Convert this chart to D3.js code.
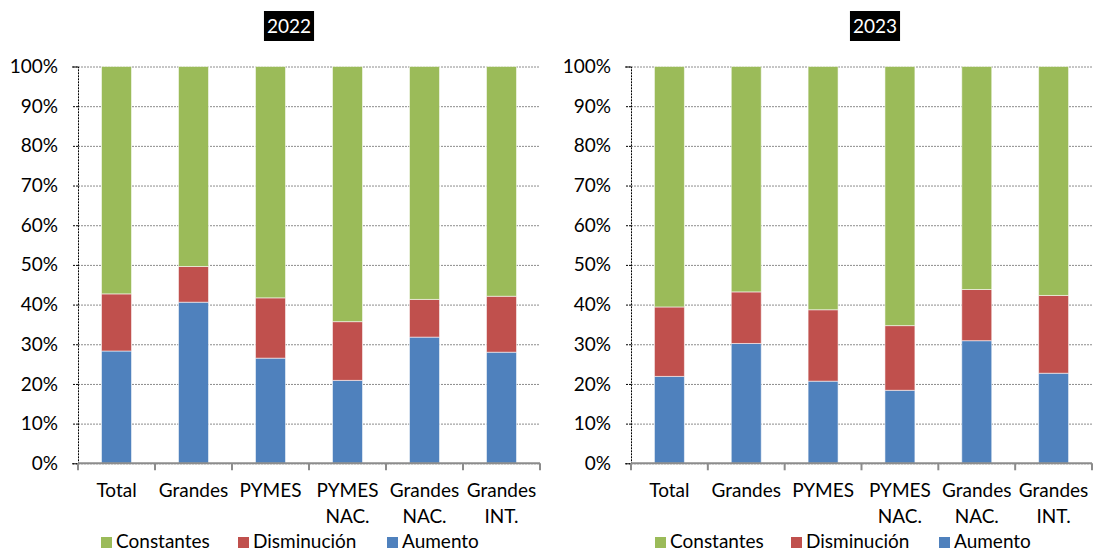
<!DOCTYPE html>
<html>
<head>
<meta charset="utf-8">
<script src="https://cdn.jsdelivr.net/npm/d3@7"></script>
<style>
  body { margin: 0; background: #fff; }
  text { font-family: Lato, "Open Sans", sans-serif; fill: #000; }
</style>
</head>
<body>
<div id="chart"></div>
<script>
var categories = ["Total", "Grandes", "PYMES", "PYMES NAC.", "Grandes NAC.", "Grandes INT."];
var seriesNames = ["Aumento", "Disminución", "Constantes"];
var seriesColors = {"Aumento": "#4f81bd", "Disminución": "#c0504d", "Constantes": "#9bbb59"};
var legendOrder = ["Constantes", "Disminución", "Aumento"];
var yTicks = [0, 10, 20, 30, 40, 50, 60, 70, 80, 90, 100];

var years = ["2022", "2023"];
var aumento2022     = [28.3, 40.6, 26.5, 20.9, 31.8, 28.0];
var disminucion2022 = [14.4,  9.0, 15.2, 14.8,  9.5, 14.1];
var constantes2022  = [57.3, 50.4, 58.3, 64.3, 58.7, 57.9];
var aumento2023     = [21.9, 30.2, 20.7, 18.4, 30.9, 22.7];
var disminucion2023 = [17.5, 13.0, 18.0, 16.3, 12.9, 19.6];
var constantes2023  = [60.6, 56.8, 61.3, 65.3, 56.2, 57.7];

var width = 1093, height = 552;
var fontSize = "19px";

var svg = d3.select("#chart").append("svg")
    .attr("width", width)
    .attr("height", height);

var panels = [
  {year: years[0], left: 78, right: 540, titleX: 289, legendX: [101, 238, 387],
   aum: aumento2022, dis: disminucion2022, con: constantes2022},
  {year: years[1], left: 631, right: 1092, titleX: 875, legendX: [655, 791, 939],
   aum: aumento2023, dis: disminucion2023, con: constantes2023}
];

var plotTop = 66.5, plotBottom = 463.3;

panels.forEach(function(p) { drawPanel(p); });

function drawPanel(p) {
  var rows = categories.map(function(c, i) {
    return {cat: c, "Aumento": p.aum[i], "Disminución": p.dis[i], "Constantes": p.con[i]};
  });

  var x = d3.scaleBand()
      .domain(categories)
      .range([p.left, p.right])
      .paddingInner(0.61)
      .paddingOuter(0.305);

  var y = d3.scaleLinear()
      .domain([0, 100])
      .range([plotBottom, plotTop]);

  var g = svg.append("g");

  // gridlines
  g.append("g")
    .attr("transform", "translate(" + p.left + ",0)")
    .call(d3.axisLeft(y).tickValues(yTicks).tickSize(-(p.right - p.left)).tickFormat(""))
    .call(function(a) {
      a.select(".domain").remove();
      a.selectAll("line")
        .attr("stroke", "#8c8c8c")
        .attr("stroke-dasharray", "2,1")
        .attr("stroke-width", 1);
    });

  // stacked bars
  var stacked = d3.stack().keys(seriesNames)(rows);
  g.selectAll(".series")
    .data(stacked)
    .enter().append("g")
    .attr("fill", function(d) { return seriesColors[d.key]; })
    .selectAll("rect")
    .data(function(d) { return d; })
    .enter().append("rect")
    .attr("x", function(d) { return x(d.data.cat); })
    .attr("width", x.bandwidth())
    .attr("y", function(d) { return y(d[1]); })
    .attr("height", function(d) { return y(d[0]) - y(d[1]); })
    .attr("stroke", "rgba(255,255,255,0.55)")
    .attr("stroke-width", 1);

  // y axis
  g.append("g")
    .attr("transform", "translate(" + p.left + ",0)")
    .call(d3.axisLeft(y).tickValues(yTicks).tickSize(6).tickPadding(14)
      .tickFormat(function(d) { return d + "%"; }))
    .call(function(a) {
      a.select(".domain")
        .attr("stroke", "#000")
        .attr("stroke-dasharray", "2,1");
      a.selectAll("line")
        .attr("stroke", "#000")
        .attr("stroke-dasharray", "2,1");
      a.selectAll("text")
        .style("font-size", fontSize)
        .style("font-family", "Lato, sans-serif")
        .attr("fill", "#000");
    });

  // x axis
  g.append("line")
    .attr("x1", p.left).attr("x2", p.right)
    .attr("y1", plotBottom).attr("y2", plotBottom)
    .attr("stroke", "#8c8c8c")
    .attr("stroke-width", 2);

  var bounds = d3.range(categories.length + 1).map(function(i) { return p.left + i * x.step(); });
  g.selectAll(".xtick")
    .data(bounds)
    .enter().append("line")
    .attr("x1", function(d) { return d; }).attr("x2", function(d) { return d; })
    .attr("y1", plotBottom).attr("y2", plotBottom + 7)
    .attr("stroke", "#8c8c8c")
    .attr("stroke-width", 2);

  var labels = g.selectAll(".xlabel")
    .data(categories)
    .enter().append("text")
    .attr("text-anchor", "middle")
    .style("font-size", fontSize)
    .attr("x", function(d) { return x(d) + x.bandwidth() / 2; })
    .attr("y", 497);
  labels.each(function(d) {
    var t = d3.select(this);
    d.split(" ").forEach(function(w, i) {
      t.append("tspan")
        .attr("x", x(d) + x.bandwidth() / 2)
        .attr("dy", i === 0 ? 0 : 26)
        .text(w);
    });
  });

  // title
  var title = g.append("g");
  var tt = title.append("text")
    .attr("x", p.titleX)
    .attr("y", 33)
    .attr("text-anchor", "middle")
    .style("font-size", fontSize)
    .style("fill", "#fff")
    .text(p.year);
  var bb = tt.node().getBBox();
  title.insert("rect", "text")
    .attr("x", bb.x - 3).attr("y", 11)
    .attr("width", bb.width + 6).attr("height", 30)
    .attr("fill", "#000");

  // legend
  var lg = g.selectAll(".legend")
    .data(legendOrder)
    .enter().append("g")
    .attr("transform", function(d, i) { return "translate(" + p.legendX[i] + ",537)"; });
  lg.append("rect")
    .attr("width", 11).attr("height", 11)
    .attr("fill", function(d) { return seriesColors[d]; });
  lg.append("text")
    .attr("x", 15).attr("y", 11)
    .style("font-size", fontSize)
    .text(function(d) { return d; });
}
</script>
</body>
</html>
